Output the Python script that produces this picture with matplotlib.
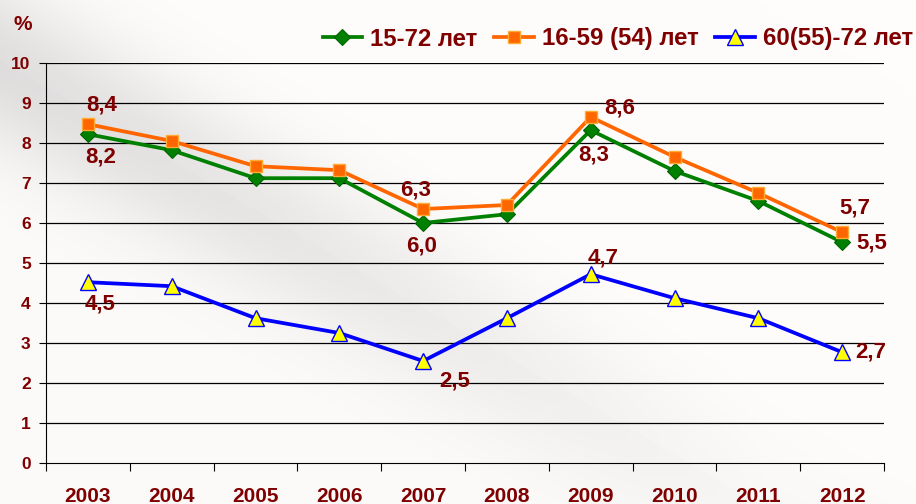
import numpy as np
import matplotlib
matplotlib.use("Agg")
import matplotlib.pyplot as plt
from matplotlib import font_manager

years = ["2003", "2004", "2005", "2006", "2007", "2008", "2009", "2010", "2011", "2012"]
s_15_72 = [8.22, 7.82, 7.12, 7.12, 6.0, 6.22, 8.32, 7.3, 6.55, 5.52]
s_16_59 = [8.47, 8.05, 7.42, 7.32, 6.35, 6.45, 8.65, 7.65, 6.75, 5.77]
s_60_72 = [4.52, 4.42, 3.62, 3.25, 2.55, 3.62, 4.72, 4.12, 3.62, 2.77]
series_names = ["15-72 лет", "16-59 (54) лет", "60(55)-72 лет"]
yticks = [0, 1, 2, 3, 4, 5, 6, 7, 8, 9, 10]

# data labels: (point index, text)
labels_15_72 = [(0, "8,2"), (4, "6,0"), (6, "8,3"), (9, "5,5")]
labels_16_59 = [(0, "8,4"), (4, "6,3"), (6, "8,6"), (9, "5,7")]
labels_60_72 = [(0, "4,5"), (4, "2,5"), (6, "4,7"), (9, "2,7")]

MAROON = "#7f0000"
avail = {f.name for f in font_manager.fontManager.ttflist}
FONT = "Liberation Sans" if "Liberation Sans" in avail else "DejaVu Sans"
plt.rcParams['font.family'] = [FONT, "DejaVu Sans"]

W, H = 916, 504
fig = plt.figure(figsize=(W / 100, H / 100), dpi=100)

# background gradient
bg = fig.add_axes([0, 0, 1, 1], zorder=-10)
yy, xx = np.mgrid[0:H, 0:W]
p0 = np.array([0.0, 60.0]); p1 = np.array([760.0, 504.0])
d = p1 - p0
n = np.array([-d[1], d[0]]) / np.hypot(*d)
dist = (xx - p0[0]) * n[0] + (yy - p0[1]) * n[1]
shade = 30 * np.exp(-(dist / 75.0) ** 2) * np.clip(1 - xx / 900.0, 0.15, 1)
img = np.zeros((H, W, 3))
base = np.array([253, 251, 249]) * 1.0
img[..., 0] = base[0] - shade
img[..., 1] = base[1] - shade
img[..., 2] = base[2] - shade * 0.95
upper = dist < 0
img[upper] = np.minimum(255, img[upper] + 2)
bg.imshow(np.clip(img, 0, 255).astype(np.uint8), aspect="auto", extent=[0, W, H, 0])
bg.axis("off")

ax = fig.add_axes([46 / W, 1 - 463 / H, (884 - 46) / W, 400 / H])
ax.patch.set_alpha(0)
x = np.arange(len(years))

ax.plot(x, s_15_72, color="#008000", lw=2.7, marker="D", ms=8.5, mfc="#008000",
        mec="#006400", mew=0.8, label=series_names[0], zorder=4)
ax.plot(x, s_16_59, color="#ff6600", lw=2.7, marker="s", ms=9, mfc="#ff6600",
        mec="#ffaa33", mew=1.0, label=series_names[1], zorder=5)
ax.plot(x, s_60_72, color="#0000ff", lw=2.7, marker="^", ms=11, mfc="#ffff00",
        mec="#0000ff", mew=1.0, label=series_names[2], zorder=6)

ax.set_xlim(-0.5, len(years) - 0.5)
ax.set_ylim(0, 10)
ax.set_yticks(yticks)
ax.set_yticklabels([str(t) for t in yticks], fontsize=12.5, fontweight="bold", color=MAROON)
ax.set_xticks(np.arange(-0.5, len(years), 1.0))
ax.set_xticklabels([])
ax.set_xticks(x, minor=True)
ax.set_xticklabels(years, minor=True, fontsize=15, fontweight="bold", color=MAROON)
ax.tick_params(axis="x", which="major", length=6, direction="out", color="black")
ax.tick_params(axis="x", which="minor", length=0, pad=17)
ax.tick_params(axis="y", length=5, direction="out", color="black", pad=6)
for t in yticks[1:]:
    ax.axhline(t, color="black", lw=0.9, zorder=1)
for s in ["top", "right"]:
    ax.spines[s].set_visible(False)
ax.spines["left"].set_color("black")
ax.spines["bottom"].set_color("black")

offsets_15 = [(13, -23), (-2, -23), (3, -25), (30, -1)]
offsets_16 = [(14, 19), (-8, 19), (29, 9), (13, 24)]
offsets_60 = [(12, -22), (32, -20), (12, 16), (29, 0)]
for lab, ser, offs in [(labels_15_72, s_15_72, offsets_15),
                       (labels_16_59, s_16_59, offsets_16),
                       (labels_60_72, s_60_72, offsets_60)]:
    for (i, txt), off in zip(lab, offs):
        ax.annotate(txt, (x[i], ser[i]), xytext=off, textcoords="offset pixels",
                    ha="center", va="center", fontsize=16, fontweight="bold",
                    color=MAROON, zorder=8)

leg = fig.legend(loc="center right", bbox_to_anchor=(913 / W, 1 - 39 / H), ncol=3, frameon=False,
                 prop={"weight": "bold", "size": 17.3},
                 handlelength=1.65, columnspacing=0.7, handletextpad=0.33,
                 borderaxespad=0, borderpad=0)
for t in leg.get_texts():
    t.set_color(MAROON)

fig.text(14 / W, 1 - 24 / H, "%", fontsize=15, fontweight="bold", color=MAROON,
         ha="left", va="center")

fig.savefig("out.png", dpi=100)
